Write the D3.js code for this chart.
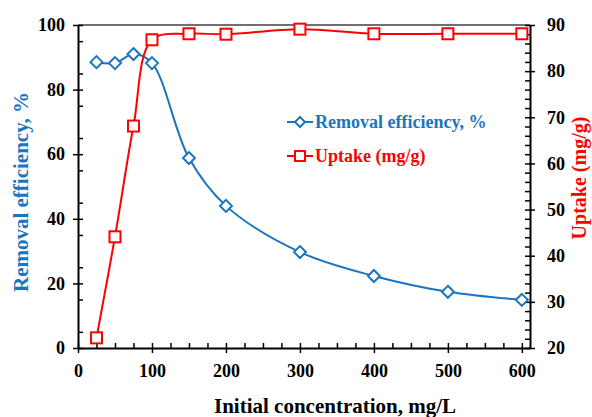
<!DOCTYPE html>
<html>
<head>
<meta charset="utf-8">
<script src="https://cdn.jsdelivr.net/npm/d3@7"></script>
<style>
  html, body { margin: 0; padding: 0; background: #fff; }
  svg { display: block; }
  svg text { font-family: "Liberation Serif", Tinos, "Times New Roman", Times, serif; font-weight: bold; }
</style>
</head>
<body>
<svg id="chart" width="592" height="417"></svg>
<script>
// Initial concentration (mg/L)
const concentration = [25, 50, 75, 100, 150, 200, 300, 400, 500, 600];
// Removal efficiency (%), left axis
const removalEfficiency = [88.5, 88.2, 91.0, 88.2, 58.8, 44.0, 29.7, 22.3, 17.4, 14.9];
// Uptake (mg/g), right axis
const uptake = [22.2, 44.1, 68.1, 86.8, 88.1, 88.0, 89.1, 88.1, 88.1, 88.1];

const xTicks = [0, 100, 200, 300, 400, 500, 600];
const leftTicks = [0, 20, 40, 60, 80, 100];
const rightTicks = [20, 30, 40, 50, 60, 70, 80, 90];

const seriesNames = ["Removal efficiency, %", "Uptake (mg/g)"];
const blue = "#1a75c0";
const red = "#ff0000";

const svg = d3.select("#chart");
const plotLeft = 78, plotRight = 530, plotTop = 25, plotBottom = 348;

const x = d3.scaleLinear().domain([0, 611]).range([plotLeft, plotRight]);
const yL = d3.scaleLinear().domain([0, 100]).range([plotBottom, plotTop]);
const yR = d3.scaleLinear().domain([20, 90]).range([plotBottom, plotTop]);

// top frame line
svg.append("line")
  .attr("x1", plotLeft).attr("x2", plotRight).attr("y1", plotTop).attr("y2", plotTop)
  .attr("stroke", "#404040").attr("stroke-width", 1.5);

function styleAxis(g) {
  g.attr("font-family", null);
  g.select(".domain").attr("stroke", "#000").attr("stroke-width", 2);
  g.selectAll(".tick line").attr("stroke", "#000").attr("stroke-width", 1.5);
  g.selectAll("text").attr("fill", "#000").attr("font-size", 18);
}
function styleMinor(g) {
  g.select(".domain").remove();
  g.selectAll("line").attr("stroke", "#000").attr("stroke-width", 1.5);
}

// minor ticks (inside)
const xMinor = d3.range(0, 601, 25).filter(v => v % 100 !== 0);
svg.append("g").attr("transform", `translate(0,${plotBottom})`)
  .call(d3.axisTop(x).tickValues(xMinor).tickSize(5).tickFormat(""))
  .call(styleMinor);
svg.append("g").attr("transform", `translate(${plotLeft},0)`)
  .call(d3.axisRight(yL).tickValues(d3.range(5, 100, 10)).tickSize(5).tickFormat(""))
  .call(styleMinor);
svg.append("g").attr("transform", `translate(${plotRight},0)`)
  .call(d3.axisLeft(yR).tickValues(d3.range(20, 91, 2).filter(v => v % 10 !== 0)).tickSize(5).tickFormat(""))
  .call(styleMinor);

// major axes, ticks crossing the axis line
svg.append("g").attr("transform", `translate(0,${plotBottom})`)
  .call(d3.axisBottom(x).tickValues(xTicks).tickSizeOuter(0).tickSizeInner(5).tickPadding(12))
  .call(styleAxis)
  .call(g => { g.selectAll(".tick line").attr("y1", -5).attr("y2", 5);
               g.selectAll(".tick text").attr("y", 29).attr("dy", 0); });
svg.append("g").attr("transform", `translate(${plotLeft},0)`)
  .call(d3.axisLeft(yL).tickValues(leftTicks).tickSizeOuter(0).tickSizeInner(5).tickPadding(8))
  .call(styleAxis)
  .call(g => g.selectAll(".tick line").attr("x1", 5).attr("x2", -5));
svg.append("g").attr("transform", `translate(${plotRight},0)`)
  .call(d3.axisRight(yR).tickValues(rightTicks).tickSizeOuter(0).tickSizeInner(5).tickPadding(12))
  .call(styleAxis)
  .call(g => g.selectAll(".tick line").attr("x1", -5).attr("x2", 5));

// axis titles
svg.append("text").attr("transform", "translate(335,413)")
  .attr("text-anchor", "middle").attr("font-size", 21).attr("fill", "#000")
  .text("Initial concentration, mg/L");
svg.append("text").attr("transform", "translate(28,192) rotate(-90)")
  .attr("text-anchor", "middle").attr("font-size", 21).attr("fill", blue)
  .text("Removal efficiency, %");
svg.append("text").attr("transform", "translate(586,178) rotate(-90)")
  .attr("text-anchor", "middle").attr("font-size", 20).attr("fill", red)
  .text("Uptake (mg/g)");

// smoothed series lines
const lineL = d3.line().x((d, i) => x(concentration[i])).y(d => yL(d)).curve(d3.curveCatmullRom.alpha(0.5));
const lineR = d3.line().x((d, i) => x(concentration[i])).y(d => yR(d)).curve(d3.curveCatmullRom.alpha(0.5));

svg.append("path").datum(removalEfficiency).attr("d", lineL)
  .attr("fill", "none").attr("stroke", blue).attr("stroke-width", 2);
svg.append("path").datum(uptake).attr("d", lineR)
  .attr("fill", "none").attr("stroke", red).attr("stroke-width", 2);

// markers
const diamond = s => `M0,${-s}L${s},0L0,${s}L${-s},0Z`;
svg.append("g").selectAll("path").data(removalEfficiency).join("path")
  .attr("transform", (d, i) => `translate(${x(concentration[i])},${yL(d)})`)
  .attr("d", diamond(6)).attr("fill", "#fff").attr("stroke", blue).attr("stroke-width", 2);
svg.append("g").selectAll("rect").data(uptake).join("rect")
  .attr("x", (d, i) => x(concentration[i]) - 5.5).attr("y", d => yR(d) - 5.5)
  .attr("width", 11).attr("height", 11)
  .attr("fill", "#fff").attr("stroke", red).attr("stroke-width", 2);

// legend
const legend = svg.append("g");
const rows = [{ name: seriesNames[0], color: blue, y: 122, shape: "diamond" },
              { name: seriesNames[1], color: red, y: 156, shape: "square" }];
rows.forEach(r => {
  legend.append("line").attr("x1", 287).attr("x2", 313).attr("y1", r.y).attr("y2", r.y)
    .attr("stroke", r.color).attr("stroke-width", 2);
  if (r.shape === "diamond") {
    legend.append("path").attr("transform", `translate(300,${r.y})`).attr("d", diamond(5))
      .attr("fill", "#fff").attr("stroke", r.color).attr("stroke-width", 2);
  } else {
    legend.append("rect").attr("x", 295).attr("y", r.y - 5).attr("width", 10).attr("height", 10)
      .attr("fill", "#fff").attr("stroke", r.color).attr("stroke-width", 2);
  }
  legend.append("text").attr("x", 315).attr("y", r.y + 6).attr("font-size", 18)
    .attr("fill", r.color).text(r.name);
});
</script>
</body>
</html>
